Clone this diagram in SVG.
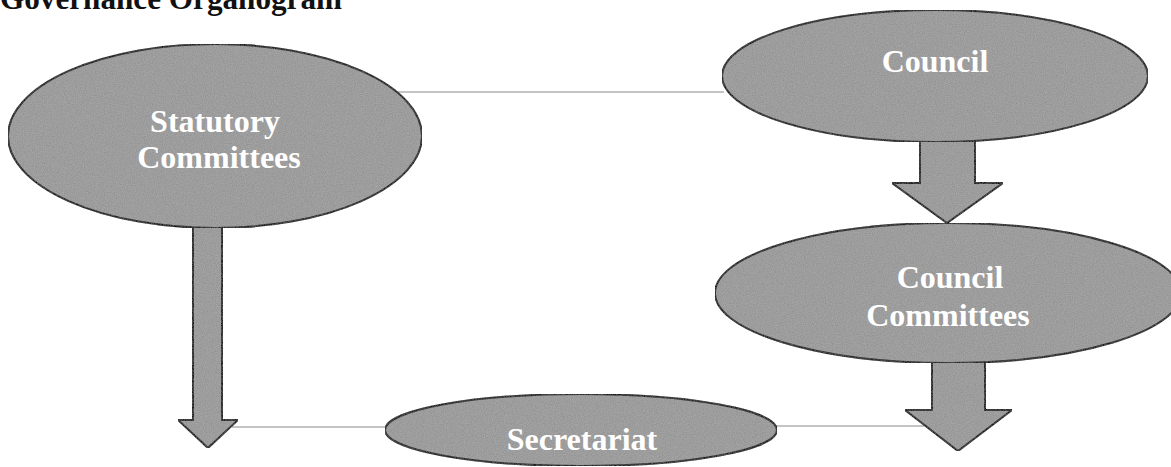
<svg xmlns="http://www.w3.org/2000/svg" width="1171" height="467" viewBox="0 0 1171 467">
  <defs>
    <filter id="grain" x="0" y="0" width="100%" height="100%">
      <feTurbulence type="fractalNoise" baseFrequency="0.9" numOctaves="2" seed="7" result="noise"/>
      <feColorMatrix in="noise" type="matrix" values="0 0 0 0 0.2  0 0 0 0 0.2  0 0 0 0 0.2  0 0 0 0.9 -0.25" result="dark"/>
      <feComposite in="dark" in2="SourceGraphic" operator="in" result="darkIn"/>
      <feMerge>
        <feMergeNode in="SourceGraphic"/>
        <feMergeNode in="darkIn"/>
      </feMerge>
    </filter>
    <style>
      .node { fill: #a4a4a4; stroke: #1e1e1e; stroke-width: 2; filter: url(#grain); }
      .arrow { fill: #a4a4a4; stroke: #1e1e1e; stroke-width: 2; stroke-linejoin: miter; filter: url(#grain); }
      .link { stroke: #8a8a8a; stroke-width: 1.2; fill: none; }
      .label { font-family: "Liberation Serif", "Times New Roman", serif; font-weight: bold; font-size: 32px; fill: #ffffff; text-anchor: middle; }
      .title { font-family: "Liberation Serif", "Times New Roman", serif; font-weight: bold; font-size: 31px; fill: #111111; }
    </style>
  </defs>
  <rect x="0" y="0" width="1171" height="467" fill="#ffffff"/>

  <text class="title" x="0" y="9" textLength="342" lengthAdjust="spacingAndGlyphs">Governance Organogram</text>

  <g id="connectors">
    <line class="link" x1="398" y1="92" x2="724" y2="92"/>
    <line class="link" x1="232" y1="427" x2="387" y2="427"/>
    <line class="link" x1="775" y1="426" x2="924" y2="426"/>
    <polygon class="arrow" points="193,222 222,222 222,420 238,420 208,448 178,420 193,420"/>
    <polygon class="arrow" points="920,136 975,136 975,183 1003,183 947,223 892,183 920,183"/>
    <polygon class="arrow" points="932,358 985,358 985,410 1012,410 958,451 905,410 932,410"/>
  </g>

  <g id="node-statutory-committees">
    <ellipse class="node" cx="215" cy="136" rx="207" ry="92"/>
    <text class="label" x="215" y="132">Statutory</text>
    <text class="label" x="219" y="168">Committees</text>
  </g>

  <g id="node-council">
    <ellipse class="node" cx="935" cy="76" rx="213" ry="66"/>
    <text class="label" x="935" y="72">Council</text>
  </g>

  <g id="node-council-committees">
    <ellipse class="node" cx="948" cy="293" rx="233" ry="70"/>
    <text class="label" x="950" y="288">Council</text>
    <text class="label" x="948" y="326">Committees</text>
  </g>

  <g id="node-secretariat">
    <ellipse class="node" cx="581" cy="430" rx="196" ry="36"/>
    <text class="label" x="582" y="450">Secretariat</text>
  </g>
</svg>
